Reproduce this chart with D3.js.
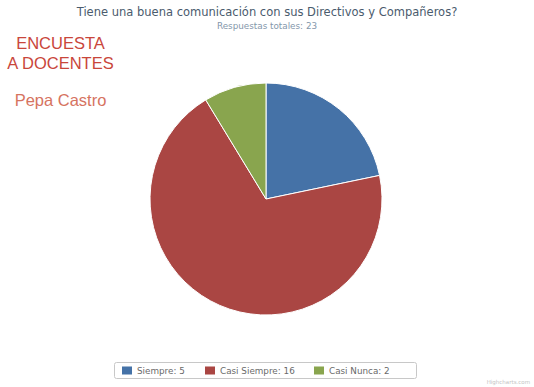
<!DOCTYPE html>
<html>
<head>
<meta charset="utf-8">
<script src="https://cdn.jsdelivr.net/npm/d3@7"></script>
<style>
  html, body { margin: 0; padding: 0; background: #fff; }
  svg { display: block; font-family: "DejaVu Sans", Verdana, sans-serif; }
</style>
</head>
<body>
<svg id="chart" width="534" height="387"></svg>
<script>
// Survey answers
const categories = ["Siempre", "Casi Siempre", "Casi Nunca"];
const values = [5, 16, 2];
const colors = ["#4572A7", "#AA4643", "#89A54E"];

const title = "Tiene una buena comunicación con sus Directivos y Compañeros?";
const subtitle = "Respuestas totales: " + d3.sum(values);

const svg = d3.select("#chart");
const W = 534, H = 387;

// Title and subtitle
svg.append("text")
  .attr("x", W / 2).attr("y", 16)
  .attr("text-anchor", "middle")
  .attr("font-size", 11.5)
  .attr("fill", "#4a5b6d")
  .text(title);
svg.append("text")
  .attr("x", W / 2).attr("y", 29)
  .attr("text-anchor", "middle")
  .attr("font-size", 8.8)
  .attr("fill", "#8497ab")
  .text(subtitle);

// Side caption
const side = svg.append("g")
  .style("font-family", "'Liberation Sans', Arial, sans-serif");
side.append("text").attr("x", 60.5).attr("y", 49).attr("text-anchor", "middle")
  .attr("font-size", 16.5).attr("fill", "#c9463b").text("ENCUESTA");
side.append("text").attr("x", 60.5).attr("y", 69).attr("text-anchor", "middle")
  .attr("font-size", 16.5).attr("fill", "#c9463b").text("A DOCENTES");
side.append("text").attr("x", 60.5).attr("y", 106).attr("text-anchor", "middle")
  .attr("font-size", 16.5).attr("fill", "#d6735f").text("Pepa Castro");

// Pie
const cx = 266, cy = 199, r = 116;
const pie = d3.pie().sort(null).value(d => d.v)
  .startAngle(0).endAngle(2 * Math.PI);
const arc = d3.arc().innerRadius(0).outerRadius(r);
const color = d3.scaleOrdinal().domain(categories).range(colors);
const data = categories.map((c, i) => ({ c, v: values[i] }));

svg.append("g").attr("transform", `translate(${cx},${cy})`)
  .selectAll("path").data(pie(data)).join("path")
  .attr("d", arc)
  .attr("fill", d => color(d.data.c))
  .attr("stroke", "#fff")
  .attr("stroke-width", 1)
  .attr("stroke-linejoin", "round");

// Legend
const lg = svg.append("g");
lg.append("rect")
  .attr("x", 114.5).attr("y", 362.5).attr("width", 302).attr("height", 16)
  .attr("rx", 2).attr("fill", "#fff").attr("stroke", "#c8c8c8");
const legendX = [122, 205, 314];
const items = lg.selectAll("g.item").data(data).join("g")
  .attr("class", "item")
  .attr("transform", (d, i) => `translate(${legendX[i]},366)`);
items.append("rect").attr("width", 10).attr("height", 8).attr("y", 0.5)
  .attr("fill", d => color(d.c));
items.append("text").attr("x", 15).attr("y", 8)
  .attr("font-size", 8.8).attr("fill", "#6a6a6a")
  .text(d => `${d.c}: ${d.v}`);

// Credit
svg.append("text").attr("x", 530).attr("y", 384).attr("text-anchor", "end")
  .attr("font-size", 5.5).attr("fill", "#c4c4c4").text("Highcharts.com");
</script>
</body>
</html>
